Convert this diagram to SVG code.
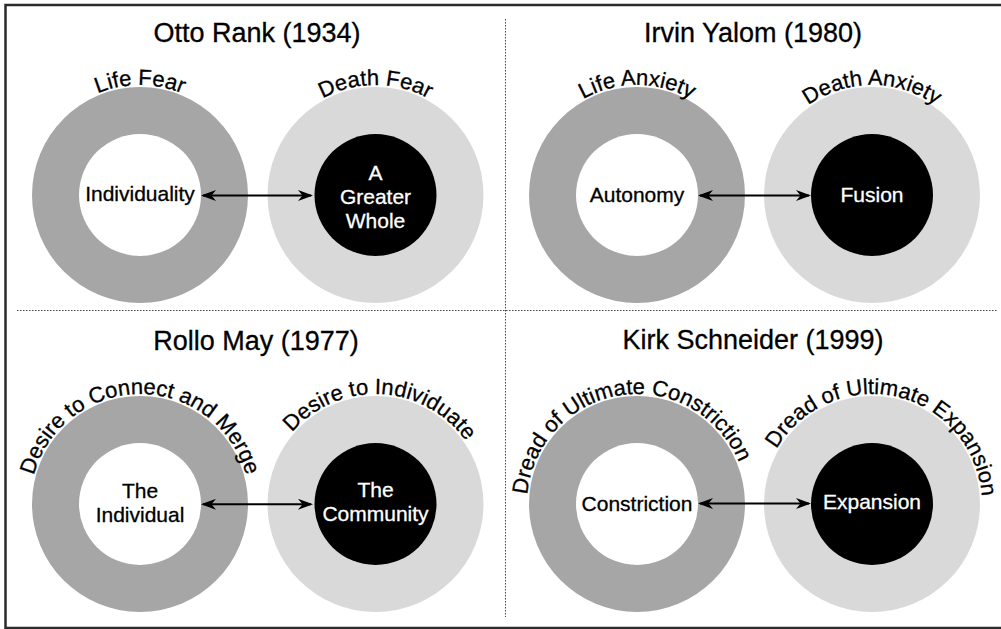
<svg xmlns="http://www.w3.org/2000/svg" xmlns:xlink="http://www.w3.org/1999/xlink" width="1001" height="629" viewBox="0 0 1001 629">
  <style>
    .frame { fill: none; stroke: #2b2b2b; stroke-width: 2.5; }
    .divider { stroke: #444; stroke-width: 1; stroke-dasharray: 1.5 1.5; fill: none; }
    .ring-dark { fill: #a6a6a6; }
    .ring-light { fill: #d9d9d9; }
    .core-white { fill: #ffffff; }
    .core-black { fill: #000000; }
    .title { font-family: "Liberation Sans", Arial, sans-serif; font-size: 27px; fill: #000; stroke: #000; stroke-width: 0.3; text-anchor: middle; }
    .core-label { font-family: "Liberation Sans", Arial, sans-serif; font-size: 21px; stroke-width: 0.3; text-anchor: middle; }
    .dark-text { fill: #000; stroke: #000; }
    .light-text { fill: #fff; stroke: #fff; }
    .arc-label { font-family: "Liberation Sans", Arial, sans-serif; font-size: 22px; fill: #000; stroke: #000; stroke-width: 0.3; text-anchor: middle; }
    .link { stroke: #000; stroke-width: 2; fill: none; marker-start: url(#head); marker-end: url(#head); }
  </style>
  <defs>
    <marker id="head" markerUnits="userSpaceOnUse" markerWidth="15" markerHeight="11" refX="13" refY="5.5" orient="auto-start-reverse" viewBox="0 0 15 11">
      <path d="M0,0 L15,5.5 L0,11 L4.5,5.5 Z" fill="#000"/>
    </marker>
    <!-- circular baselines (r=110) starting at the bottom, running clockwise -->
    <path id="arc-q1-left" d="M140,305 A110,110 0 1,1 140,85 A110,110 0 1,1 140,305"/>
    <path id="arc-q1-right" d="M375.5,305 A110,110 0 1,1 375.5,85 A110,110 0 1,1 375.5,305"/>
    <path id="arc-q2-left" d="M637,305 A110,110 0 1,1 637,85 A110,110 0 1,1 637,305"/>
    <path id="arc-q2-right" d="M872,305 A110,110 0 1,1 872,85 A110,110 0 1,1 872,305"/>
    <path id="arc-q3-left" d="M140,614 A110,110 0 1,1 140,394 A110,110 0 1,1 140,614"/>
    <path id="arc-q3-right" d="M375.5,614 A110,110 0 1,1 375.5,394 A110,110 0 1,1 375.5,614"/>
    <path id="arc-q4-left" d="M637,614 A110,110 0 1,1 637,394 A110,110 0 1,1 637,614"/>
    <path id="arc-q4-right" d="M872,614 A110,110 0 1,1 872,394 A110,110 0 1,1 872,614"/>
  </defs>

  <rect width="1001" height="629" fill="#fff"/>
  <!-- outer frame (open on the right edge) -->
  <path class="frame" d="M1003,5 L5.5,5 L5.5,628 L1003,628"/>

  <!-- quadrant dividers -->
  <g id="dividers">
    <line class="divider" x1="505.5" y1="19" x2="505.5" y2="617"/>
    <line class="divider" x1="17" y1="310.5" x2="997" y2="310.5"/>
  </g>

  <!-- Otto Rank -->
  <g id="rank">
    <text class="title" x="257" y="42">Otto Rank (1934)</text>
    <g id="rank-life">
      <circle class="ring-dark" cx="140" cy="195" r="108"/>
      <circle class="core-white" cx="140" cy="195" r="61"/>
      <text class="core-label dark-text" x="140" y="201">Individuality</text>
      <text class="arc-label"><textPath xlink:href="#arc-q1-left" href="#arc-q1-left" startOffset="50%">Life Fear</textPath></text>
    </g>
    <g id="rank-death">
      <circle class="ring-light" cx="375.5" cy="195" r="108"/>
      <circle class="core-black" cx="375.5" cy="195" r="61"/>
      <text class="core-label light-text" x="375.5" y="180">A</text>
      <text class="core-label light-text" x="375.5" y="204">Greater</text>
      <text class="core-label light-text" x="375.5" y="228">Whole</text>
      <text class="arc-label"><textPath xlink:href="#arc-q1-right" href="#arc-q1-right" startOffset="50%">Death Fear</textPath></text>
    </g>
  </g>

  <!-- Irvin Yalom -->
  <g id="yalom">
    <text class="title" x="753" y="42">Irvin Yalom (1980)</text>
    <g id="yalom-life">
      <circle class="ring-dark" cx="637" cy="195" r="108"/>
      <circle class="core-white" cx="637" cy="195" r="61"/>
      <text class="core-label dark-text" x="637" y="202">Autonomy</text>
      <text class="arc-label"><textPath xlink:href="#arc-q2-left" href="#arc-q2-left" startOffset="50%">Life Anxiety</textPath></text>
    </g>
    <g id="yalom-death">
      <circle class="ring-light" cx="872" cy="195" r="108"/>
      <circle class="core-black" cx="872" cy="195" r="61"/>
      <text class="core-label light-text" x="872" y="202">Fusion</text>
      <text class="arc-label"><textPath xlink:href="#arc-q2-right" href="#arc-q2-right" startOffset="50%">Death Anxiety</textPath></text>
    </g>
  </g>

  <!-- Rollo May -->
  <g id="may">
    <text class="title" x="256" y="350">Rollo May (1977)</text>
    <g id="may-individual">
      <circle class="ring-dark" cx="140" cy="504" r="108"/>
      <circle class="core-white" cx="140" cy="504" r="61"/>
      <text class="core-label dark-text" x="140" y="498">The</text>
      <text class="core-label dark-text" x="140" y="522">Individual</text>
      <text class="arc-label"><textPath xlink:href="#arc-q3-left" href="#arc-q3-left" startOffset="50%">Desire to Connect and Merge</textPath></text>
    </g>
    <g id="may-community">
      <circle class="ring-light" cx="375.5" cy="504" r="108"/>
      <circle class="core-black" cx="375.5" cy="504" r="61"/>
      <text class="core-label light-text" x="375.5" y="497">The</text>
      <text class="core-label light-text" x="375.5" y="521">Community</text>
      <text class="arc-label"><textPath xlink:href="#arc-q3-right" href="#arc-q3-right" startOffset="50.8%">Desire to Individuate</textPath></text>
    </g>
  </g>

  <!-- Kirk Schneider -->
  <g id="schneider">
    <text class="title" x="753" y="349">Kirk Schneider (1999)</text>
    <g id="schneider-constriction">
      <circle class="ring-dark" cx="637" cy="504" r="108"/>
      <circle class="core-white" cx="637" cy="504" r="61"/>
      <text class="core-label dark-text" x="637" y="511">Constriction</text>
      <text class="arc-label"><textPath xlink:href="#arc-q4-left" href="#arc-q4-left" startOffset="47.6%">Dread of Ultimate Constriction</textPath></text>
    </g>
    <g id="schneider-expansion">
      <circle class="ring-light" cx="872" cy="504" r="108"/>
      <circle class="core-black" cx="872" cy="504" r="61"/>
      <text class="core-label light-text" x="872" y="509">Expansion</text>
      <text class="arc-label"><textPath xlink:href="#arc-q4-right" href="#arc-q4-right" startOffset="53.6%">Dread of Ultimate Expansion</textPath></text>
    </g>
  </g>

  <!-- two-way connectors between each pair of poles -->
  <g id="connectors">
    <line class="link" x1="203" y1="195.5" x2="311" y2="195.5"/>
    <line class="link" x1="700" y1="195.5" x2="809" y2="195.5"/>
    <line class="link" x1="203" y1="504.3" x2="311" y2="504.3"/>
    <line class="link" x1="700" y1="503.5" x2="809" y2="503.5"/>
  </g>
</svg>
